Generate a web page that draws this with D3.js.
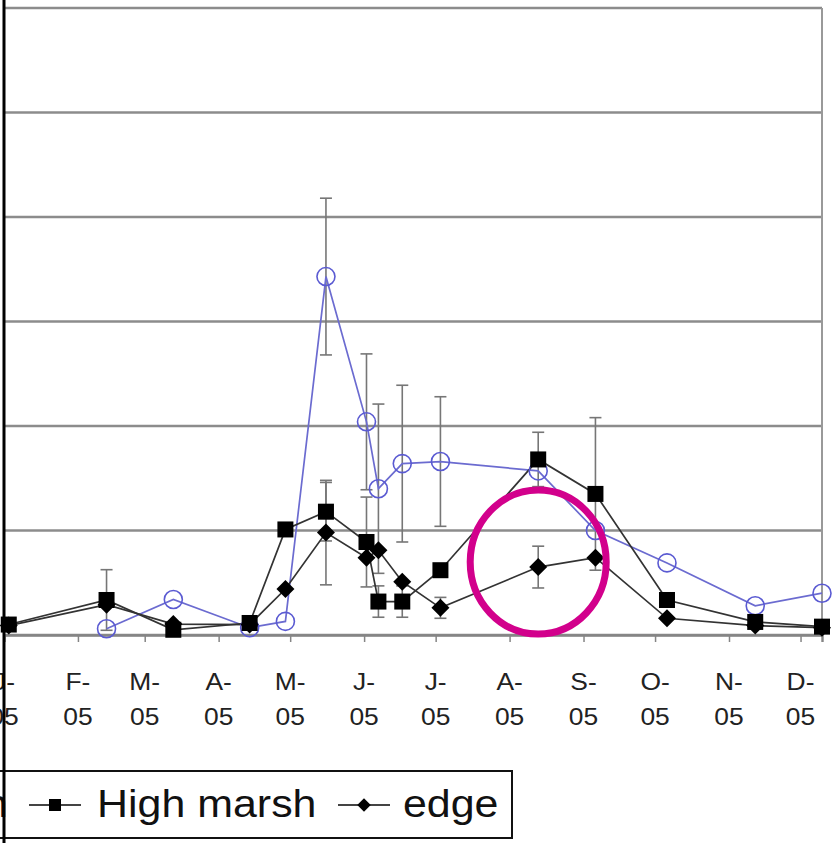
<!DOCTYPE html>
<html lang="en">
<head>
  <meta charset="UTF-8" />
  <title>Marsh series 2005</title>
  <style>
    body {
      margin: 0;
      background: #fff;
      font-family: "Liberation Sans", Arial, sans-serif;
    }
    svg { display: block; }
    .grid line { stroke: #8c8c8c; stroke-width: 2.4; }
    .tick-label { fill: #222; font-size: 24px; }
    .legend-text { fill: #111; font-size: 38px; }
    .err { stroke: #767676; stroke-width: 1.6; fill: none; }
  </style>
</head>
<body>
  <svg width="835" height="843"></svg>

  <script src="https://d3js.org/d3.v7.min.js"></script>
  <script>
    const parse = d3.timeParse("%Y-%m-%d");

    // sampling dates
    const dates = ["2005-01-03", "2005-02-13", "2005-03-13", "2005-04-14", "2005-04-29",
      "2005-05-16", "2005-06-02", "2005-06-07", "2005-06-17", "2005-07-03",
      "2005-08-13", "2005-09-06", "2005-10-06", "2005-11-12", "2005-12-10"];

    // series values (null = no sample)
    const lowMarsh = [null, 0.6, 3.4, 0.7, 1.3, 34.3, 20.4, 14.0, 16.4, 16.6, 15.7, 10.0, 6.9, 2.8, 4.0];
    const lowMarshErr = [null, null, null, null, null, 7.5, 6.5, 8.1, 7.5, 6.2, null, null, null, null, null];
    const highMarsh = [1.0, 3.35, 0.5, 1.15, 10.1, 11.8, 8.9, 3.2, 3.2, 6.2, 16.8, 13.5, 3.35, 1.25, 0.8];
    const highMarshErr = [null, 2.9, null, null, null, 2.8, 4.3, 1.5, 1.5, null, 2.6, 7.3, null, null, null];
    const edge = [0.9, 2.9, 1.05, 1.0, 4.4, 9.8, 7.4, 8.1, 5.1, 2.6, 6.5, 7.4, 1.6, 0.9, 0.7];
    const edgeErr = [null, null, null, null, null, 5.0, null, null, null, 1.0, 2.0, null, null, null, null];

    // axis ticks
    const tickDates = ["2005-01-01", "2005-02-01", "2005-03-01", "2005-04-01", "2005-05-01", "2005-06-01",
      "2005-07-01", "2005-08-01", "2005-09-01", "2005-10-01", "2005-11-01", "2005-12-01"];
    const tickLetters = ["J-", "F-", "M-", "A-", "M-", "J-", "J-", "A-", "S-", "O-", "N-", "D-"];
    const gridValues = [0, 10, 20, 30, 40, 50, 60];

    const legendNames = ["Low marsh", "High marsh", "edge"];
    const highlightDate = "2005-08-13";

    const svg = d3.select("svg");

    const x = d3.scaleTime()
      .domain([parse("2005-01-01"), parse("2005-12-10")])
      .range([4, 822]);
    const y = d3.scaleLinear()
      .domain([0, 60])
      .range([635, 8]);

    // gridlines
    svg.append("g").attr("class", "grid")
      .selectAll("line")
      .data(gridValues)
      .join("line")
      .attr("x1", 4).attr("x2", 822)
      .attr("y1", d => y(d)).attr("y2", d => y(d));

    // right frame of plot area
    svg.append("line")
      .attr("x1", 822).attr("x2", 822)
      .attr("y1", y(60)).attr("y2", y(0))
      .attr("stroke", "#999").attr("stroke-width", 2);

    // x axis ticks
    const xAxis = svg.append("g")
      .attr("transform", `translate(0,${y(0)})`)
      .call(d3.axisBottom(x).tickValues(tickDates.map(parse)).tickSize(7).tickFormat(""));
    xAxis.select(".domain").attr("stroke", "#858585").attr("stroke-width", 2.4);
    xAxis.selectAll(".tick line").attr("stroke", "#858585").attr("stroke-width", 1.5);

    const labels = svg.append("g")
      .selectAll("g")
      .data(tickDates)
      .join("g")
      .attr("transform", d => `translate(${x(parse(d))},0) scale(1.1,1)`);
    labels.append("text")
      .attr("class", "tick-label")
      .attr("text-anchor", "middle")
      .attr("y", 690)
      .text((d, i) => tickLetters[i]);
    labels.append("text")
      .attr("class", "tick-label")
      .attr("text-anchor", "middle")
      .attr("y", 725)
      .text("05");

    function toPoints(values, errs) {
      return dates.map((d, i) => ({ date: parse(d), v: values[i], e: errs[i] }))
        .filter(p => p.v !== null);
    }

    const series = [
      { name: legendNames[0], pts: toPoints(lowMarsh, lowMarshErr), color: "#6b6bd0", marker: "circle" },
      { name: legendNames[1], pts: toPoints(highMarsh, highMarshErr), color: "#333", marker: "square" },
      { name: legendNames[2], pts: toPoints(edge, edgeErr), color: "#333", marker: "diamond" }
    ];

    // error bars
    series.forEach(s => {
      const g = svg.append("g").attr("class", "err");
      s.pts.filter(p => p.e !== null).forEach(p => {
        const cx = x(p.date);
        const top = y(p.v + p.e), bot = y(p.v - p.e);
        g.append("line").attr("x1", cx).attr("x2", cx).attr("y1", top).attr("y2", bot);
        g.append("line").attr("x1", cx - 6).attr("x2", cx + 6).attr("y1", top).attr("y2", top);
        g.append("line").attr("x1", cx - 6).attr("x2", cx + 6).attr("y1", bot).attr("y2", bot);
      });
    });

    const line = d3.line().x(p => x(p.date)).y(p => y(p.v));

    series.forEach(s => {
      svg.append("path")
        .datum(s.pts)
        .attr("d", line)
        .attr("fill", "none")
        .attr("stroke", s.color)
        .attr("stroke-width", 1.7);
    });

    function drawMarker(g, type, cx, cy, scale = 1) {
      if (type === "circle") {
        g.append("circle").attr("cx", cx).attr("cy", cy).attr("r", 9 * scale)
          .attr("fill", "none").attr("stroke", "#5a5ad2").attr("stroke-width", 1.6);
      } else if (type === "square") {
        const s = 16 * scale;
        g.append("rect").attr("x", cx - s / 2).attr("y", cy - s / 2)
          .attr("width", s).attr("height", s).attr("fill", "#000");
      } else {
        const r = 9 * scale;
        g.append("path")
          .attr("d", `M${cx},${cy - r}L${cx + r},${cy}L${cx},${cy + r}L${cx - r},${cy}Z`)
          .attr("fill", "#000");
      }
    }

    series.forEach(s => {
      const g = svg.append("g");
      s.pts.forEach(p => drawMarker(g, s.marker, x(p.date), y(p.v)));
    });

    // highlight ring round the August edge sample
    const hi = dates.indexOf(highlightDate);
    svg.append("ellipse")
      .attr("cx", x(parse(highlightDate)))
      .attr("cy", y(edge[hi]) - 5)
      .attr("rx", 68)
      .attr("ry", 72)
      .attr("fill", "none")
      .attr("stroke", "#d2008c")
      .attr("stroke-width", 7);

    // legend (left part is cut off in the source)
    const legend = svg.append("g");
    legend.append("rect")
      .attr("x", -20).attr("y", 771)
      .attr("width", 532).attr("height", 67)
      .attr("fill", "#fff").attr("stroke", "#111").attr("stroke-width", 2);

    const legendItems = [
      { sym: "circle", x0: -266, tx: -202 },
      { sym: "square", x0: 29, tx: 97 },
      { sym: "diamond", x0: 338, tx: 403 }
    ];
    legendItems.forEach((it, i) => {
      const ly = 805;
      legend.append("line")
        .attr("x1", it.x0).attr("x2", it.x0 + 52)
        .attr("y1", ly).attr("y2", ly)
        .attr("stroke", i === 0 ? "#6b6bd0" : "#444").attr("stroke-width", 2);
      drawMarker(legend, it.sym, it.x0 + 26, ly, 0.75);
      legend.append("text")
        .attr("class", "legend-text")
        .attr("transform", `translate(${it.tx},817) scale(1.13,1)`)
        .text(legendNames[i]);
    });

    // left frame
    svg.append("line")
      .attr("x1", 4).attr("x2", 4)
      .attr("y1", 0).attr("y2", 843)
      .attr("stroke", "#000").attr("stroke-width", 3);
  </script>
</body>
</html>
